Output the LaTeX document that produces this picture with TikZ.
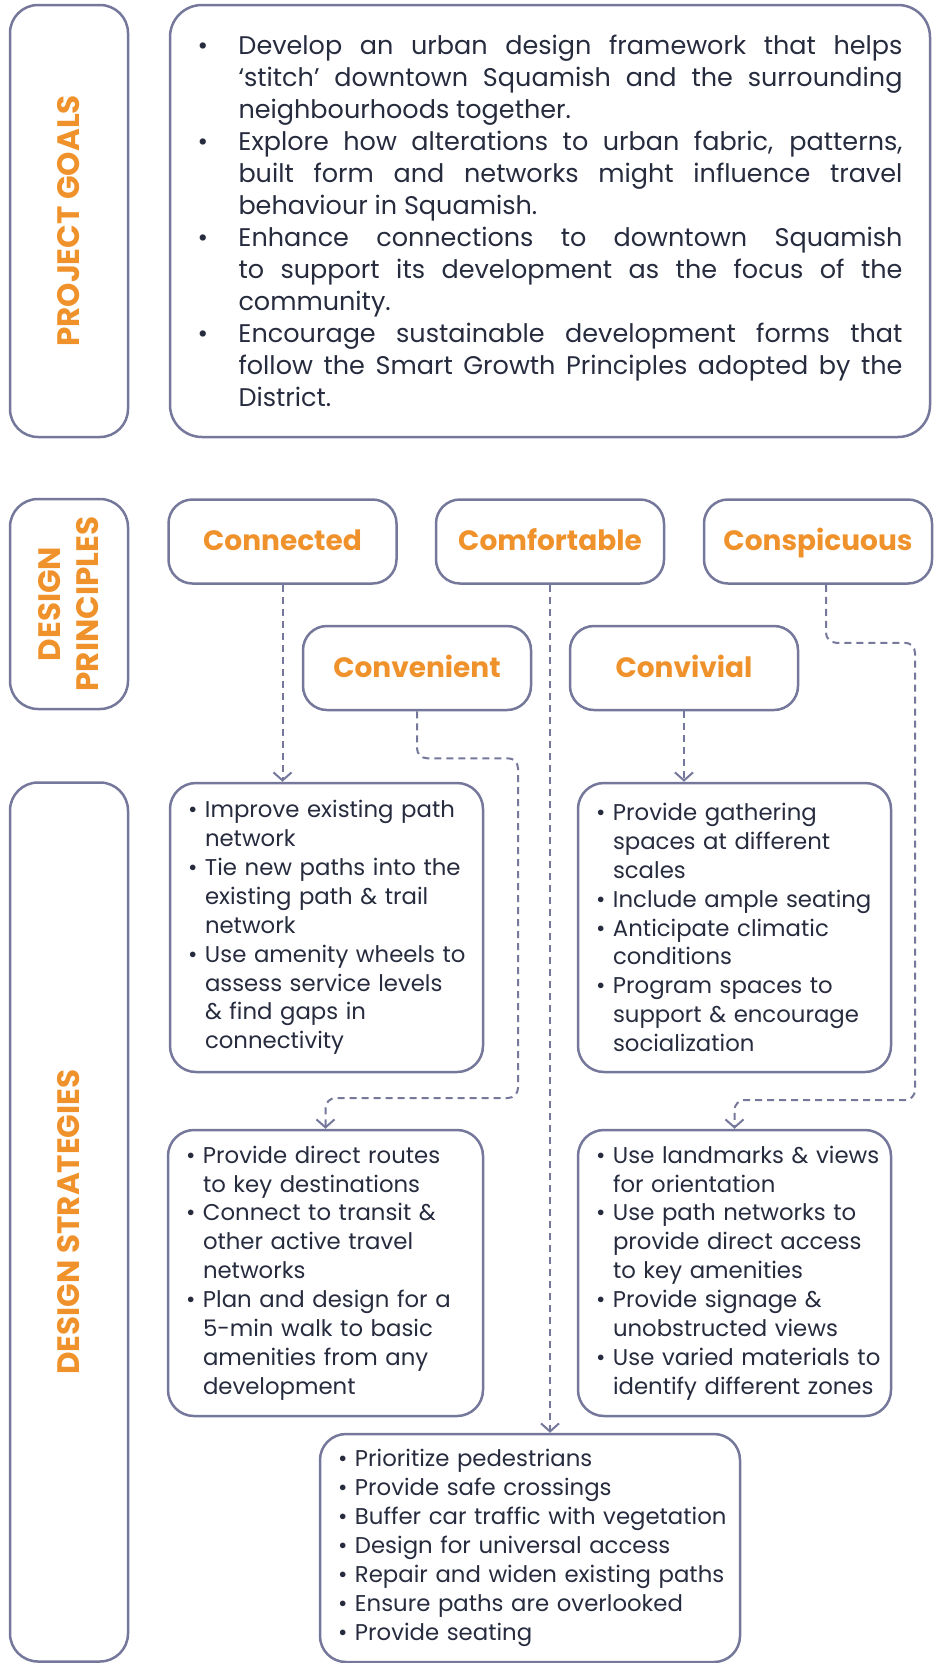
\documentclass[tikz,border=0pt]{standalone}
\usepackage{fontspec}
\setmainfont{Poppins}
\usetikzlibrary{arrows.meta}

\definecolor{frame}{RGB}{117,120,155}
\definecolor{accent}{RGB}{240,146,43}
\definecolor{ink}{RGB}{38,43,62}

\hyphenpenalty=10000
% one bullet point with hanging indent
\newlength{\bulletlead}
\newcommand{\bitem}[2][17pt]{\noindent\hangindent=\dimexpr#1+\bulletlead\relax\hangafter=1%
  \hspace*{\bulletlead}\makebox[#1][l]{\textbullet}#2\par}

\begin{document}
\begin{tikzpicture}[x=1pt,y=-1pt,
    box/.style={draw=frame,line width=2.5pt,rounded corners=28pt},
    sidelabel/.style={box,rotate=90,minimum height=118pt,text=accent,align=center,
      font={\fontsize{31}{38}\selectfont\bfseries}},
    principle/.style={box,rounded corners=24pt,minimum width=228pt,minimum height=84pt,
      text height=19pt,text depth=1pt,text=accent,font={\fontsize{28}{30}\selectfont\bfseries}},
    strategy/.style={box,rounded corners=26pt,inner sep=0pt,text=ink,align=left,
      font={\fontsize{22.8}{28.9}\selectfont\setlength{\bulletlead}{9pt}}},
    link/.style={draw=frame,line width=2pt,dash pattern=on 7pt off 5pt,rounded corners=10pt,
      -{Straight Barb[length=8pt,width=18pt]}}]
  \useasboundingbox (0,0) rectangle (940,1663);

  % left column
  \node[sidelabel,minimum width=432pt] (goals-label) at (69,221) {PROJECT GOALS};
  \node[sidelabel,minimum width=210pt] (principles-label) at (69,604) {DESIGN\\PRINCIPLES};
  \node[sidelabel,minimum width=879pt] (strategies-label) at (69,1222) {DESIGN STRATEGIES};

  % project goals
  \node[box,rounded corners=32pt,minimum width=760pt,minimum height=432pt,text width=705pt,
      inner sep=0pt,align=justify,text=ink,font={\fontsize{25.5}{32}\selectfont}] (goals) at (550,221) {%
    \bitem[41pt]{Develop an urban design framework that helps\linebreak
      `stitch' downtown Squamish and the surrounding\linebreak
      neighbourhoods together.}
    \bitem[41pt]{Explore how alterations to urban fabric, patterns,\linebreak
      built form and networks might influence travel\linebreak
      behaviour in Squamish.}
    \bitem[41pt]{Enhance connections to downtown Squamish\linebreak
      to support its development as the focus of the\linebreak
      community.}
    \bitem[41pt]{Encourage sustainable development forms that\linebreak
      follow the Smart Growth Principles adopted by the\linebreak
      District.}};

  % design principles
  \node[principle] (connected) at (282.5,541.5) {Connected};
  \node[principle] (comfortable) at (550,541.5) {Comfortable};
  \node[principle] (conspicuous) at (818,541.5) {Conspicuous};
  \node[principle] (convenient) at (417,668) {Convenient};
  \node[principle] (convivial) at (684,668) {Convivial};

  % design strategies
  \node[strategy,minimum width=313pt,minimum height=289pt,text width=295pt] (s-connected) at (326.5,927.5) {%
    \bitem{Improve existing path\newline network}
    \bitem{Tie new paths into the\newline existing path \& trail\newline network}
    \bitem{Use amenity wheels to\newline assess service levels\newline \& find gaps in\newline connectivity}};
  \node[strategy,minimum width=313pt,minimum height=289pt,text width=295pt] (s-convivial) at (734.5,927.5) {%
    \bitem{Provide gathering\newline spaces at different\newline scales}
    \bitem{Include ample seating}
    \bitem{Anticipate climatic\newline conditions}
    \bitem{Program spaces to\newline support \& encourage\newline socialization}};
  \node[strategy,minimum width=315pt,minimum height=286pt,text width=297pt] (s-convenient) at (325.5,1273) {%
    \bitem{Provide direct routes\newline to key destinations}
    \bitem{Connect to transit \&\newline other active travel\newline networks}
    \bitem{Plan and design for a\newline 5-min walk to basic\newline amenities from any\newline development}};
  \node[strategy,minimum width=313pt,minimum height=286pt,text width=295pt] (s-conspicuous) at (734.5,1273) {%
    \bitem{Use landmarks \& views\newline for orientation}
    \bitem{Use path networks to\newline provide direct access\newline to key amenities}
    \bitem{Provide signage \&\newline unobstructed views}
    \bitem{Use varied materials to\newline identify different zones}};
  \node[strategy,minimum width=420pt,minimum height=228pt,text width=402pt] (s-comfortable) at (530,1548) {%
    \bitem{Prioritize pedestrians}
    \bitem{Provide safe crossings}
    \bitem{Buffer car traffic with vegetation}
    \bitem{Design for universal access}
    \bitem{Repair and widen existing paths}
    \bitem{Ensure paths are overlooked}
    \bitem{Provide seating}};

  % principles to strategies
  \draw[link] (connected.south) -- (connected.south |- s-connected.north);
  \draw[link] (convivial.south) -- (convivial.south |- s-convivial.north);
  \draw[link] (comfortable.south) -- (comfortable.south |- s-comfortable.north);
  \draw[link] (convenient.south) -- ++(0,47) -| (518,1098) -| (s-convenient.north);
  \draw[link] ([xshift=8pt]conspicuous.south) -- ++(0,58) -| (915,1100) -| (s-conspicuous.north);
\end{tikzpicture}
\end{document}
